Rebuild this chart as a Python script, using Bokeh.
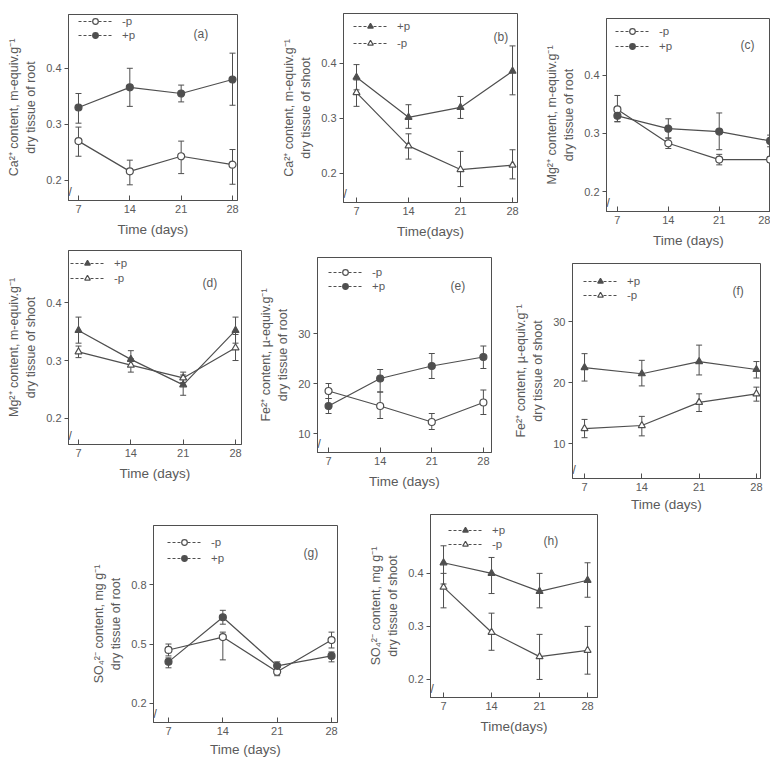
from bokeh.plotting import figure
from bokeh.layouts import row, column
from bokeh.models import (FixedTicker, Whisker, TeeHead, ColumnDataSource, Legend,
                          LegendItem, Label, Spacer, Range1d)
from bokeh.embed import file_html
from bokeh.resources import INLINE

# ---------------- data ----------------
days = [7, 14, 21, 28]

# (a) Ca2+ root
a_minus = [0.270, 0.216, 0.243, 0.228]
a_minus_lo = [0.243, 0.192, 0.212, 0.193]
a_minus_hi = [0.295, 0.236, 0.270, 0.255]
a_plus = [0.330, 0.366, 0.355, 0.380]
a_plus_lo = [0.302, 0.332, 0.340, 0.334]
a_plus_hi = [0.355, 0.400, 0.370, 0.427]

# (b) Ca2+ shoot
b_plus = [0.375, 0.302, 0.320, 0.386]
b_plus_lo = [0.352, 0.282, 0.300, 0.343]
b_plus_hi = [0.398, 0.325, 0.340, 0.432]
b_minus = [0.347, 0.250, 0.207, 0.215]
b_minus_lo = [0.322, 0.226, 0.176, 0.190]
b_minus_hi = [0.370, 0.272, 0.240, 0.243]

# (c) Mg2+ root
c_minus = [0.341, 0.283, 0.255, 0.255]
c_minus_lo = [0.320, 0.274, 0.246, 0.250]
c_minus_hi = [0.365, 0.292, 0.264, 0.260]
c_plus = [0.330, 0.308, 0.303, 0.287]
c_plus_lo = [0.320, 0.292, 0.272, 0.277]
c_plus_hi = [0.340, 0.325, 0.335, 0.297]

# (d) Mg2+ shoot
d_plus = [0.352, 0.302, 0.258, 0.352]
d_plus_lo = [0.330, 0.290, 0.240, 0.330]
d_plus_hi = [0.375, 0.317, 0.275, 0.375]
d_minus = [0.315, 0.292, 0.270, 0.322]
d_minus_lo = [0.305, 0.280, 0.262, 0.300]
d_minus_hi = [0.325, 0.303, 0.280, 0.345]

# (e) Fe2+ root
e_minus = [18.5, 15.5, 12.3, 16.2]
e_minus_lo = [17.0, 13.0, 10.8, 13.8]
e_minus_hi = [20.0, 18.3, 14.0, 18.7]
e_plus = [15.5, 21.0, 23.5, 25.3]
e_plus_lo = [14.0, 18.3, 21.0, 23.0]
e_plus_hi = [17.0, 22.8, 26.0, 27.5]

# (f) Fe2+ shoot
f_plus = [22.5, 21.5, 23.5, 22.2]
f_plus_lo = [20.3, 19.5, 21.3, 20.8]
f_plus_hi = [24.8, 23.7, 26.2, 23.5]
f_minus = [12.5, 13.0, 16.8, 18.2]
f_minus_lo = [11.0, 11.3, 15.3, 17.0]
f_minus_hi = [14.0, 14.5, 18.2, 19.3]

# (g) SO4 root
g_minus = [0.47, 0.535, 0.36, 0.52]
g_minus_lo = [0.44, 0.42, 0.34, 0.48]
g_minus_hi = [0.50, 0.56, 0.37, 0.56]
g_plus = [0.41, 0.635, 0.39, 0.44]
g_plus_lo = [0.38, 0.60, 0.37, 0.41]
g_plus_hi = [0.43, 0.67, 0.41, 0.46]

# (h) SO4 shoot
h_plus = [0.420, 0.400, 0.366, 0.387]
h_plus_lo = [0.380, 0.362, 0.335, 0.355]
h_plus_hi = [0.452, 0.430, 0.400, 0.420]
h_minus = [0.374, 0.289, 0.243, 0.255]
h_minus_lo = [0.335, 0.255, 0.200, 0.210]
h_minus_hi = [0.400, 0.325, 0.285, 0.300]

ticks_m = [0.2, 0.3, 0.4]
ticks_fe = [10, 20, 30]
ticks_so4 = [0.2, 0.5, 0.8]

INK = "#4f4f4f"
TXT = "#5a5a5a"
FONT = "Liberation Sans"
NAN = float("nan")


def panel(w, h, bl, bt, fw, fh, xr, yr, yticks, ylabel, xlabel, series, tag, tag_pos,
          leg_dx, leg_off, xlab_standoff=6):
    p = figure(width=w, height=h, x_range=Range1d(*xr), y_range=Range1d(*yr),
               output_backend="svg", toolbar_location=None,
               min_border_left=bl, min_border_top=bt,
               min_border_right=w - bl - fw, min_border_bottom=h - bt - fh)
    p.xgrid.visible = False
    p.ygrid.visible = False
    p.outline_line_color = INK
    p.outline_line_width = 1
    p.xaxis.ticker = FixedTicker(ticks=days)
    p.yaxis.ticker = FixedTicker(ticks=yticks)
    p.xaxis.axis_label = xlabel
    p.yaxis.axis_label = ylabel
    for ax in (p.xaxis[0], p.yaxis[0]):
        ax.axis_line_color = INK
        ax.major_tick_line_color = INK
        ax.minor_tick_line_color = None
        ax.major_label_text_font = FONT
        ax.major_label_text_font_size = "11px"
        ax.major_label_text_color = TXT
        ax.axis_label_text_font = FONT
        ax.axis_label_text_font_style = "normal"
        ax.axis_label_text_color = TXT
    p.xaxis.axis_label_text_font_size = "13.5px"
    p.yaxis.axis_label_text_font_size = "12.5px"
    p.xaxis.major_tick_in = 5
    p.xaxis.major_tick_out = 0
    p.yaxis.major_tick_in = 0
    p.yaxis.major_tick_out = 4
    p.xaxis.major_label_standoff = 4
    p.xaxis.axis_label_standoff = xlab_standoff
    p.yaxis.major_label_standoff = 3
    p.yaxis.axis_label_standoff = 5

    items = []
    for label, y, lo, hi, marker, filled in series:
        src = ColumnDataSource(dict(x=days, y=y, lo=lo, hi=hi))
        p.line("x", "y", source=src, line_color=INK, line_width=1.2)
        wk = Whisker(base="x", upper="hi", lower="lo", source=src, line_color=INK, line_width=1,
                     upper_head=TeeHead(size=6, line_color=INK, line_width=1),
                     lower_head=TeeHead(size=6, line_color=INK, line_width=1))
        p.add_layout(wk)
        r = p.scatter("x", "y", source=src, marker=marker, size=7,
                      fill_color=INK if filled else "white", line_color=INK, line_width=1.2)
        # legend-only dashed key line (NaN values: nothing drawn in the plot area)
        ld = p.line(x=days, y=[NAN] * len(days), line_color=INK, line_dash="3 2", line_width=1)
        items.append(LegendItem(label=label, renderers=[ld, r]))

    item_h = 14
    off1, off2 = leg_off
    spacing = max(0, (off2 - off1) - item_h)
    leg_top = off1 - item_h / 2
    leg_h = 2 * item_h + spacing
    legend = Legend(items=items, location=(leg_dx, fh - leg_top - leg_h),
                    border_line_alpha=0, background_fill_alpha=0,
                    glyph_width=34, glyph_height=item_h, label_height=item_h,
                    spacing=spacing, padding=0, margin=0, label_standoff=10,
                    label_text_font=FONT, label_text_font_size="11.5px", label_text_color=TXT)
    p.add_layout(legend)

    tx, ty = tag_pos
    p.add_layout(Label(x=tx, y=fh - ty, x_units="screen", y_units="screen", text=tag,
                       text_font=FONT, text_font_size="12px", text_color=TXT,
                       text_baseline="middle"))
    p.add_layout(Label(x=0, y=9, x_units="screen", y_units="screen", text="//",
                       text_font=FONT, text_font_size="12px", text_color=INK,
                       text_align="center", text_baseline="middle"))
    # wrap each figure on its own so that a row does not align the frames
    return column(p, width=w, height=h)


CIRC, TRI = "circle", "triangle"

# ---- row 1 ----
pa = panel(278, 250, 68, 14, 169, 186, (5.64, 28.68), (0.164, 0.496), ticks_m,
           "Ca²⁺ content, m-equiv.g⁻¹\ndry tissue of root", "Time (days)",
           [("-p", a_minus, a_minus_lo, a_minus_hi, CIRC, False),
            ("+p", a_plus, a_plus_lo, a_plus_hi, CIRC, True)],
           "(a)", (125, 19), 10, (7, 19))
pb = panel(263, 250, 65, 13, 174, 189, (5.25, 28.67), (0.147, 0.491), ticks_m,
           "Ca²⁺ content, m-equiv.g⁻¹\ndry tissue of shoot", "Time(days)",
           [("+p", b_plus, b_plus_lo, b_plus_hi, TRI, True),
            ("-p", b_minus, b_minus_lo, b_minus_hi, TRI, False)],
           "(b)", (150, 23), 10, (13, 30))
pc = panel(229, 250, 65, 18, 164, 194, (5.5, 28.05), (0.166, 0.497), ticks_m,
           "Mg²⁺ content, m-equiv.g⁻¹\ndry tissue of root", "Time (days)",
           [("-p", c_minus, c_minus_lo, c_minus_hi, CIRC, False),
            ("+p", c_plus, c_plus_lo, c_plus_hi, CIRC, True)],
           "(c)", (134, 27), 9, (14, 29))

# ---- row 2 ----
pd_ = panel(252, 264, 68, 0, 173, 194, (5.66, 28.8), (0.155, 0.490), ticks_m,
            "Mg²⁺ content, m-equiv.g⁻¹\ndry tissue of shoot", "Time (days)",
            [("+p", d_plus, d_plus_lo, d_plus_hi, TRI, True),
             ("-p", d_minus, d_minus_lo, d_minus_hi, TRI, False)],
            "(d)", (134, 32), 2, (13, 28))
pe = panel(255, 264, 65, 7, 174, 195, (5.5, 29.1), (6.2, 45.2), ticks_fe,
           "Fe²⁺ content, µ-equiv.g⁻¹\ndry tissue of root", "Time (days)",
           [("-p", e_minus, e_minus_lo, e_minus_hi, CIRC, False),
            ("+p", e_plus, e_plus_lo, e_plus_hi, CIRC, True)],
           "(e)", (133, 28), 11, (15, 28))
pf = panel(263, 264, 65, 13, 188, 217, (5.53, 28.5), (4.3, 39.6), ticks_fe,
           "Fe²⁺ content, µ-equiv.g⁻¹\ndry tissue of shoot", "Time (days)",
           [("+p", f_plus, f_plus_lo, f_plus_hi, TRI, True),
            ("-p", f_minus, f_minus_lo, f_minus_hi, TRI, False)],
           "(f)", (160, 29), 11, (20, 33), xlab_standoff=3)

# ---- row 3 ----
pg = panel(277, 248, 65, 11, 184, 197, (5.07, 28.77), (0.104, 1.098), ticks_so4,
           "SO₄²⁻ content, mg g⁻¹\ndry tissue of root", "Time (days)",
           [("-p", g_minus, g_minus_lo, g_minus_hi, CIRC, False),
            ("+p", g_plus, g_plus_lo, g_plus_hi, CIRC, True)],
           "(g)", (150, 27), 14, (17, 33), xlab_standoff=4)
ph = panel(275, 248, 65, 0, 167, 183, (5.1, 29.45), (0.166, 0.511), ticks_m,
           "SO₄²⁻ content, mg g⁻¹\ndry tissue of shoot", "Time(days)",
           [("+p", h_plus, h_plus_lo, h_plus_hi, TRI, True),
            ("-p", h_minus, h_minus_lo, h_minus_hi, TRI, False)],
           "(h)", (113, 26), 18, (16, 29))

layout = column(row(pa, pb, pc), row(pd_, pe, pf),
                row(Spacer(width=88, height=248), pg, ph))

open("out.html", "w").write(file_html(layout, INLINE))
